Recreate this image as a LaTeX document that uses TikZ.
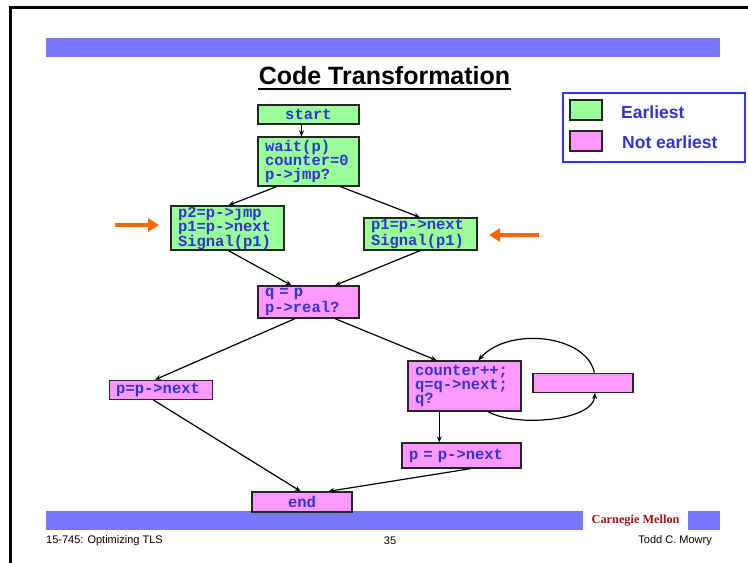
\documentclass[tikz,border=0pt]{standalone}
\usepackage{fontspec}
\setmainfont{Liberation Sans}
\newfontfamily\cour{Liberation Mono}
\newfontfamily\lsans{Liberation Sans}
\newfontfamily\tnr{Liberation Serif}
\usetikzlibrary{arrows.meta}
\definecolor{barblue}{HTML}{7777FF}
\definecolor{egreen}{HTML}{99FF99}
\definecolor{npink}{HTML}{FF99FF}
\definecolor{tblue}{HTML}{3333CC}
\definecolor{lgborder}{HTML}{3333FF}
\definecolor{orng}{HTML}{FF6600}
\definecolor{cmred}{HTML}{A50F15}
\begin{document}
\begin{tikzpicture}[x=1pt,y=-1pt,
  cbox/.style={draw=black!85,line width=1.3pt,inner xsep=7pt,inner ysep=0pt,
    font=\cour\bfseries\fontsize{15.5}{14}\selectfont,text=tblue,align=left,anchor=center},
  gbox/.style={cbox,fill=egreen},
  pbox/.style={cbox,fill=npink},
  flow/.style={line width=1.2pt,-{Stealth[length=6pt,width=5pt]}},
  bigarrow/.style={orng,line width=4pt,-{Triangle[length=11pt,width=13pt]}},
  bar/.style={fill=barblue,draw=none},
  foot/.style={font=\lsans\fontsize{11}{13}\selectfont,text=black,inner sep=0pt}]
\useasboundingbox (0,0) rectangle (748,563);
\fill[white] (0,0) rectangle (748,563);
% slide frame
\draw[line width=2.5pt,black] (10.5,565) -- (10.5,7.5) -- (750,7.5);
% bars
\fill[bar] (46,38) rectangle (720,57);
\fill[bar] (46,511) rectangle (583,530);
\fill[bar] (688,511) rectangle (720,530);
% title
\node[font=\lsans\bfseries\fontsize{25}{28}\selectfont,anchor=base,inner sep=0pt] (title) at (384.5,84) {Code Transformation};
\draw[line width=2.5pt] (258,89) -- (511,89);
% nodes
\node[gbox,minimum width=101pt,minimum height=19pt,align=center] (start) at (308.5,114.5) {start};
\node[gbox,minimum height=49pt,text width=87pt] (wait) at (308.5,161.5) {wait(p)\\counter=0\\p->jmp?};
\node[gbox,minimum height=44pt,text width=99pt] (p2) at (227.5,228) {p2=p->jmp\\p1=p->next\\Signal(p1)};
\node[gbox,minimum height=32pt,text width=99pt] (p1) at (420.5,234) {p1=p->next\\Signal(p1)};
\node[pbox,minimum height=32pt,text width=87pt] (q) at (308.5,302) {q = p\\p->real?};
\node[pbox,minimum height=19pt,text width=89pt] (pl) at (160.7,389.8) {p=p->next};
\node[pbox,minimum height=50pt,text width=99pt] (cnt) at (464.5,386) {counter++;\\q=q->next;\\q?};
\node[pbox,minimum width=100pt,minimum height=19pt] (emp) at (583,382.7) {};
\node[pbox,minimum height=25pt,text width=105pt] (pr) at (461.5,455.5) {p = p->next};
\node[pbox,minimum width=100pt,minimum height=20pt,align=center] (endb) at (302,502) {end};
% connectors
\draw[flow] ([xshift=-7pt]start.south) -- ([xshift=-7pt]wait.north);
\draw[flow] ([xshift=-32pt]wait.south) -- ([xshift=1pt]p2.north);
\draw[flow] ([xshift=32pt]wait.south) -- ([xshift=-0.5pt]p1.north);
\draw[flow] ([xshift=1pt]p2.south) -- ([xshift=-17pt]q.north);
\draw[flow] ([xshift=-0.5pt]p1.south) -- ([xshift=26.5pt]q.north);
\draw[flow] ([xshift=-13.5pt]q.south) -- ([xshift=-5.7pt]pl.north);
\draw[flow] ([xshift=26.5pt]q.south) -- ([xshift=-27.8pt]cnt.north);
\draw[flow] ([xshift=-7.4pt]pl.south) -- ([xshift=-1.3pt]endb.north);
\draw[flow] ([xshift=-25.2pt]cnt.south) -- ([xshift=-25.2pt]cnt.south |- pr.north);
\draw[flow] ([xshift=9.2pt]pr.south) -- ([xshift=26.3pt]endb.north);
\draw[flow] ([xshift=11.3pt]emp.north) .. controls +(-8,-38) and +(30,-34) .. ([xshift=13.8pt]cnt.north);
\draw[flow] ([xshift=23.8pt]cnt.south) .. controls +(28,16) and +(-2,28) .. ([xshift=12pt]emp.south);
% orange arrows
\coordinate (la1) at (115,225);
\coordinate (la2) at (159,225);
\coordinate (ra1) at (539,235);
\coordinate (ra2) at (489,235);
\draw[bigarrow] (la1) -- (la2);
\draw[bigarrow] (ra1) -- (ra2);
% legend
\draw[lgborder,line width=1.5pt,fill=white] (563,93) rectangle (745,162);
\node[draw=black!85,line width=1.3pt,fill=egreen,minimum width=32pt,minimum height=20pt,inner sep=0pt] (lg1) at (586,110) {};
\node[draw=black!85,line width=1.3pt,fill=npink,minimum width=32pt,minimum height=20pt,inner sep=0pt] (lg2) at (586,141) {};
\node[font=\lsans\bfseries\fontsize{17.5}{20}\selectfont,text=tblue,anchor=west,inner sep=0pt] (lt1) at (621,112) {Earliest};
\node[font=\lsans\bfseries\fontsize{17.5}{20}\selectfont,text=tblue,anchor=west,inner sep=0pt] (lt2) at (622,142) {Not earliest};
% footer
\node[font=\tnr\bfseries\fontsize{12.3}{14}\selectfont,text=cmred,anchor=west,inner sep=0pt] (cmu) at (591.5,520.5) {Carnegie Mellon};
\node[foot,anchor=west] (f1) at (46,541) {15-745: Optimizing TLS};
\node[foot] (f2) at (390,541) {35};
\node[foot,anchor=east] (f3) at (712,541) {Todd C. Mowry};
\end{tikzpicture}
\end{document}
